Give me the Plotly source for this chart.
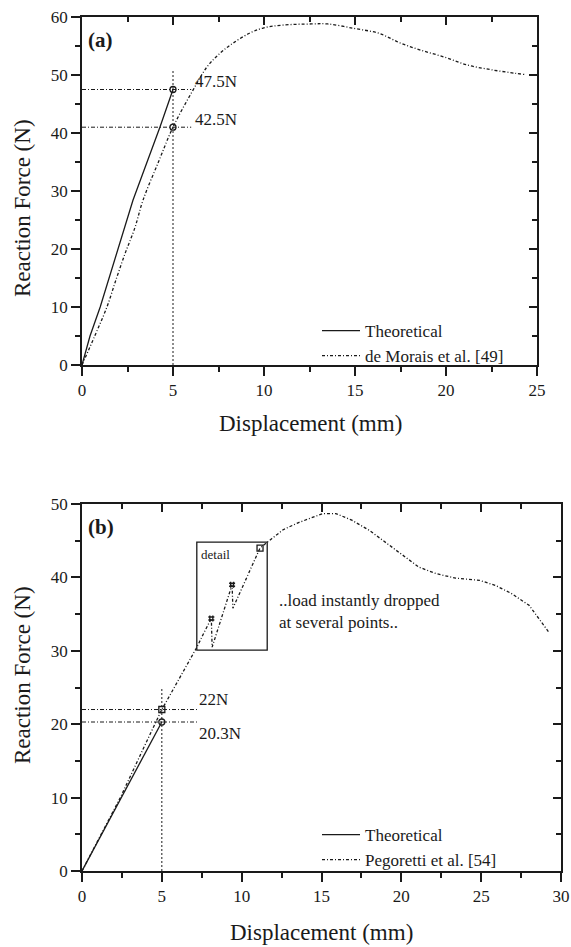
import plotly.graph_objects as go

# ---------------- data: panel (a) ----------------
theo_a_x = [0, 0.44, 1.0, 1.5, 2.0, 2.8, 4.28, 5.0]
theo_a_y = [0, 5.0, 10.0, 15.0, 20.0, 28.4, 41.0, 47.5]
morais_x = [0, 0.7, 1.37, 1.9, 2.4, 2.9, 3.35, 4.2, 5.0, 6.1, 6.87, 7.6, 8.3, 9.2, 9.95,
            11.0, 12.6, 13.5, 15.0, 16.3, 17.5, 18.6, 19.9, 21.2, 22.5, 23.8, 24.3]
morais_y = [0, 5.0, 10.0, 15.0, 19.5, 23.6, 28.4, 35.0, 41.0, 47.4, 51.4, 53.8, 55.5, 57.2, 58.1,
            58.6, 58.8, 58.8, 58.0, 57.2, 55.5, 54.3, 53.1, 51.7, 50.9, 50.3, 50.1]
pts_a_x = [5.0, 5.0]
pts_a_y = [47.5, 41.0]
guide_a_v_x = [5.0, 5.0]
guide_a_v_y = [0, 50.9]
guide_a_h1_x = [0, 6.0]
guide_a_h1_y = [47.5, 47.5]
guide_a_h2_x = [0, 6.0]
guide_a_h2_y = [41.0, 41.0]

# ---------------- data: panel (b) ----------------
theo_b_x = [0, 2.5, 5.0]
theo_b_y = [0, 10.2, 20.3]
pego_x = [0, 1.2, 2.4, 3.8, 4.4, 5.0, 5.7, 6.4, 7.2, 7.6, 8.1, 8.15, 8.8, 9.4, 9.45, 10.3, 11.15,
          11.9, 12.6, 13.6, 15.1, 15.9, 16.9, 18.0, 19.25, 20.3, 21.1, 22.2, 23.4, 24.9, 25.9,
          26.9, 28.0, 29.25]
pego_y = [0, 5.0, 10.0, 16.5, 19.2, 22.0, 24.7, 27.4, 30.5, 32.3, 34.4, 30.5, 34.8, 39.0, 35.8,
          40.0, 44.0, 45.3, 46.5, 47.5, 48.7, 48.7, 47.8, 46.4, 44.4, 42.6, 41.4, 40.5, 39.9,
          39.6, 38.9, 37.8, 36.2, 32.5]
pts_b_x = [5.0, 5.0]
pts_b_y = [22.0, 20.3]
detail_pts_x = [8.1, 9.4, 11.15]
detail_pts_y = [34.4, 39.0, 44.0]
guide_b_v_x = [5.0, 5.0]
guide_b_v_y = [0, 25.0]
guide_b_h1_x = [0, 7.3]
guide_b_h1_y = [22.0, 22.0]
guide_b_h2_x = [0, 7.3]
guide_b_h2_y = [20.3, 20.3]

W, H = 571, 947
FONT = "Liberation Serif, 'Times New Roman', Times, serif"
INK = "#1a1a1a"

def px(x):
    return x / W

def py(y):
    return 1 - y / H

exp_dash = "3px,2px,1px,2px"
guide_h_dash = "4px,2px,1px,2px"
guide_v_dash = "2px,2px"

fig = go.Figure()

# panel (a)
fig.add_trace(go.Scatter(x=guide_a_v_x, y=guide_a_v_y, mode="lines", xaxis="x", yaxis="y",
                         line=dict(color=INK, width=1, dash=guide_v_dash), showlegend=False, hoverinfo="skip"))
fig.add_trace(go.Scatter(x=guide_a_h1_x, y=guide_a_h1_y, mode="lines", xaxis="x", yaxis="y",
                         line=dict(color=INK, width=1, dash=guide_h_dash), showlegend=False, hoverinfo="skip"))
fig.add_trace(go.Scatter(x=guide_a_h2_x, y=guide_a_h2_y, mode="lines", xaxis="x", yaxis="y",
                         line=dict(color=INK, width=1, dash=guide_h_dash), showlegend=False, hoverinfo="skip"))
fig.add_trace(go.Scatter(x=theo_a_x, y=theo_a_y, mode="lines", name="Theoretical", xaxis="x", yaxis="y",
                         line=dict(color=INK, width=1.3), legend="legend"))
fig.add_trace(go.Scatter(x=morais_x, y=morais_y, mode="lines", name="de Morais et al. [49]",
                         xaxis="x", yaxis="y", line=dict(color=INK, width=1.3, dash=exp_dash, shape="spline"),
                         legend="legend"))
fig.add_trace(go.Scatter(x=pts_a_x, y=pts_a_y, mode="markers", xaxis="x", yaxis="y", showlegend=False,
                         marker=dict(symbol="circle-open", size=6, color=INK, line=dict(width=1.3))))

# panel (b)
fig.add_trace(go.Scatter(x=guide_b_v_x, y=guide_b_v_y, mode="lines", xaxis="x2", yaxis="y2",
                         line=dict(color=INK, width=1, dash=guide_v_dash), showlegend=False, hoverinfo="skip"))
fig.add_trace(go.Scatter(x=guide_b_h1_x, y=guide_b_h1_y, mode="lines", xaxis="x2", yaxis="y2",
                         line=dict(color=INK, width=1, dash=guide_h_dash), showlegend=False, hoverinfo="skip"))
fig.add_trace(go.Scatter(x=guide_b_h2_x, y=guide_b_h2_y, mode="lines", xaxis="x2", yaxis="y2",
                         line=dict(color=INK, width=1, dash=guide_h_dash), showlegend=False, hoverinfo="skip"))
fig.add_trace(go.Scatter(x=theo_b_x, y=theo_b_y, mode="lines", name="Theoretical", xaxis="x2", yaxis="y2",
                         line=dict(color=INK, width=1.3), legend="legend2"))
fig.add_trace(go.Scatter(x=pego_x, y=pego_y, mode="lines", name="Pegoretti et al. [54]",
                         xaxis="x2", yaxis="y2", line=dict(color=INK, width=1.3, dash=exp_dash),
                         legend="legend2"))
fig.add_trace(go.Scatter(x=pts_b_x, y=pts_b_y, mode="markers", xaxis="x2", yaxis="y2", showlegend=False,
                         marker=dict(symbol=["square-open", "circle-open"], size=6, color=INK,
                                     line=dict(width=1.3))))
fig.add_trace(go.Scatter(x=detail_pts_x, y=detail_pts_y, mode="markers", xaxis="x2", yaxis="y2",
                         showlegend=False,
                         marker=dict(symbol=["hash", "hash", "square-open"], size=6, color=INK,
                                     line=dict(width=1.3, color=INK))))

# dummy traces to activate mirrored inside-tick axes
fig.add_trace(go.Scatter(x=[None], y=[None], xaxis="x3", yaxis="y3", showlegend=False, hoverinfo="skip"))
fig.add_trace(go.Scatter(x=[None], y=[None], xaxis="x4", yaxis="y4", showlegend=False, hoverinfo="skip"))

tickfont = dict(family=FONT, size=17, color=INK)

def main_axis(rng, dtick, minor_dtick, domain, anchor):
    return dict(range=rng, domain=domain, anchor=anchor, dtick=dtick, tick0=0,
                ticks="outside", ticklen=9, tickwidth=1.5, tickcolor=INK,
                minor=dict(ticks="outside", ticklen=5, dtick=minor_dtick, tickwidth=1.5, tickcolor=INK),
                showline=True, linecolor=INK, linewidth=1.6, showgrid=False, zeroline=False,
                tickfont=tickfont, fixedrange=True, automargin=False)

def mirror_axis(rng, dtick, minor_dtick, overlay, side, anchor):
    return dict(range=rng, overlaying=overlay, side=side, anchor=anchor, dtick=dtick, tick0=0,
                ticks="inside", ticklen=8, tickwidth=1.5, tickcolor=INK,
                minor=dict(ticks="inside", ticklen=5, dtick=minor_dtick, tickwidth=1.5, tickcolor=INK),
                showline=True, linecolor=INK, linewidth=1.6, showgrid=False, zeroline=False,
                showticklabels=False, fixedrange=True, automargin=False)

xa_dom = [px(82), px(537)]
ya_dom = [py(365), py(17)]
xb_dom = [px(82), px(561)]
yb_dom = [py(871), py(504)]

legend_common = dict(font=dict(family=FONT, size=17, color=INK), bgcolor="rgba(0,0,0,0)",
                     borderwidth=0, xanchor="left", yanchor="top", tracegroupgap=0,
                     itemwidth=38, itemclick=False, itemdoubleclick=False)

annots = []
def ann(text, x, y, xref="paper", yref="paper", size=17, bold=False, xanchor="center",
        yanchor="middle", angle=0, align="left"):
    annots.append(dict(text=f"<b>{text}</b>" if bold else text, x=x, y=y, xref=xref, yref=yref,
                       showarrow=False, xanchor=xanchor, yanchor=yanchor, textangle=angle,
                       align=align, font=dict(family=FONT, size=size, color=INK)))

# axis titles
ann("Displacement (mm)", px(310), py(424), size=23)
ann("Displacement (mm)", px(321), py(932), size=23)
ann("Reaction Force (N)", px(22), py(208), size=23, angle=-90)
ann("Reaction Force (N)", px(22), py(675), size=23, angle=-90)
# panel labels
ann("(a)", 0.22, 56.0, xref="x", yref="y", size=21, bold=True, xanchor="left")
ann("(b)", 0.25, 46.9, xref="x2", yref="y2", size=21, bold=True, xanchor="left")
# value labels
ann("47.5N", 6.1, 48.8, xref="x", yref="y", xanchor="left")
ann("42.5N", 6.1, 42.4, xref="x", yref="y", xanchor="left")
ann("22N", 7.2, 23.4, xref="x2", yref="y2", xanchor="left")
ann("20.3N", 7.2, 18.8, xref="x2", yref="y2", xanchor="left")
ann("detail", 7.35, 43.1, xref="x2", yref="y2", size=13, xanchor="left")
ann("..load instantly dropped<br>at several points..", 12.2, 35.4, xref="x2", yref="y2",
    xanchor="left")

fig.update_layout(
    width=W, height=H, margin=dict(l=0, r=0, t=0, b=0, autoexpand=False),
    paper_bgcolor="white", plot_bgcolor="white",
    xaxis=main_axis([0, 25], 5, 2.5, xa_dom, "y"),
    yaxis=main_axis([0, 60], 10, 5, ya_dom, "x"),
    xaxis2=main_axis([0, 30], 5, 2.5, xb_dom, "y2"),
    yaxis2=main_axis([0, 50], 10, 5, yb_dom, "x2"),
    xaxis3=mirror_axis([0, 25], 5, 2.5, "x", "top", "y"),
    yaxis3=mirror_axis([0, 60], 10, 5, "y", "right", "x"),
    xaxis4=mirror_axis([0, 30], 5, 2.5, "x2", "top", "y2"),
    yaxis4=mirror_axis([0, 50], 10, 5, "y2", "right", "x2"),
    legend=dict(x=px(317), y=py(313), **legend_common),
    legend2=dict(x=px(317), y=py(817), **legend_common),
    annotations=annots,
    shapes=[dict(type="rect", xref="x2", yref="y2", x0=7.19, x1=11.6, y0=30.1, y1=44.8,
                 line=dict(color=INK, width=1.3), fillcolor="rgba(0,0,0,0)")],
)

fig.write_html("out.html")
